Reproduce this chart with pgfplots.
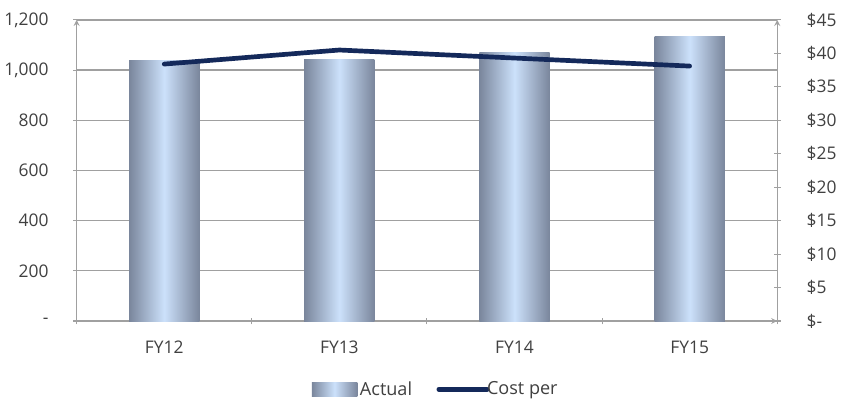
\documentclass[border=0pt]{standalone}
\usepackage{pgfplots}
\pgfplotsset{compat=1.18}
\usepackage{fontspec}
\setmainfont{Open Sans}
\definecolor{barEdge}{HTML}{7A869C}
\definecolor{barMid}{HTML}{CCE1FB}
\definecolor{lineNavy}{HTML}{14295A}
\definecolor{gridGray}{HTML}{A0A0A0}
\definecolor{txt}{HTML}{404040}
\begin{document}
\begin{tikzpicture}
\pgfplotsset{
  every axis/.append style={
    width=523.5pt, height=225pt, scale only axis,
    xmin=-0.5, xmax=3.5,
    font=\fontsize{13}{15}\selectfont\color{txt},
    tick label style={font=\fontsize{13}{15}\selectfont\color{txt}},
    /pgf/number format/assume math mode=true,
    axis line style={gridGray, line width=1pt, -},
    tick style={gridGray, line width=0.8pt},
    tick align=outside,
    major tick length=5pt,
  },
  barshade/.style={ybar, bar width=52.5pt, draw=none, left color=barEdge, right color=barEdge, middle color=barMid},
}
\begin{axis}[
  axis x line=bottom, axis y line=left,
  ymin=0, ymax=1200,
  ytick={0,200,400,600,800,1000,1200},
  yticklabels={-,200,400,600,800,{1,000},{1,200}},
  ymajorgrids, grid style={gridGray, line width=1pt},
  xtick={-0.5,0.5,1.5,2.5,3.5},
  xticklabels={FY12,FY13,FY14,FY15},
  x tick label as interval,
  xticklabel style={yshift=-9pt},
  yticklabel style={xshift=-15pt},
  legend style={at={(0.513,-0.227)}, anchor=center, draw=none, legend columns=2,
    font=\fontsize{13.5}{15}\selectfont\color{txt},
    /tikz/every odd column/.append style={column sep=0pt},
    /tikz/every even column/.append style={column sep=18pt}},
  legend cell align=left,
]
\addplot[barshade,
  legend image code/.code={\fill[left color=barEdge, right color=barEdge, middle color=barMid] (0pt,-5pt) rectangle (34pt,5pt);}]
  coordinates {(0,1040)};
\addlegendentry{Actual}
\addplot[barshade, forget plot] coordinates {(1,1041)};
\addplot[barshade, forget plot] coordinates {(2,1072)};
\addplot[barshade, forget plot] coordinates {(3,1132)};
\addlegendimage{legend image code/.code={\path[draw=none, fill=none] (0pt,-3pt) rectangle (34pt,3pt); \draw[overlay, lineNavy, line width=3.5pt, line cap=round] (0pt,0pt) -- (36pt,0pt);}}
\addlegendentry{Cost per}
\end{axis}
\begin{axis}[
  axis x line=none, axis y line=right,
  ymin=0, ymax=45,
  ytick={0,5,...,45},
  yticklabels={\$-,\$5,\$10,\$15,\$20,\$25,\$30,\$35,\$40,\$45},
  yticklabel style={xshift=16pt},
]
\addplot[lineNavy, line width=3.5pt, line cap=round, line join=round] coordinates {(0,38.4) (1,40.5) (2,39.3) (3,38.1)};
\end{axis}
\path ([yshift=6pt]current bounding box.north);
\end{tikzpicture}
\end{document}
